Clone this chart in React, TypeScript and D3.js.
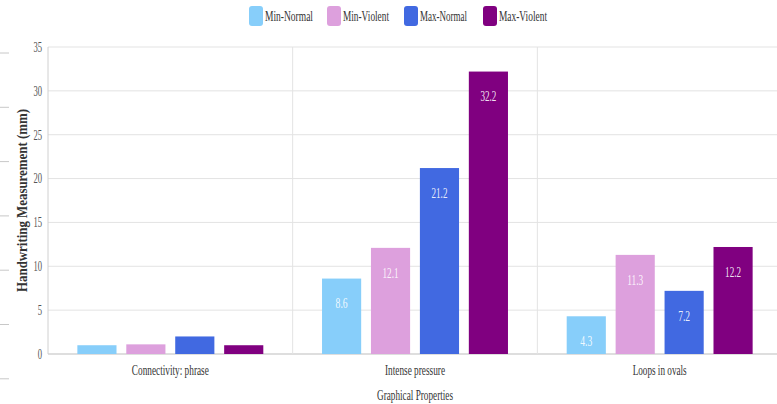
import React from "react";
import * as d3 from "d3";

const categories = ["Connectivity: phrase", "Intense pressure", "Loops in ovals"];
const seriesNames = ["Min-Normal", "Min-Violent", "Max-Normal", "Max-Violent"];
const seriesColors = ["#87CEFA", "#DDA0DD", "#4169E1", "#800080"];
const minNormal = [1.0, 8.6, 4.3];
const minViolent = [1.1, 12.1, 11.3];
const maxNormal = [2.0, 21.2, 7.2];
const maxViolent = [1.0, 32.2, 12.2];
const yTicks = [0, 5, 10, 15, 20, 25, 30, 35];

const W = 777;
const H = 404;
const FONT = "'Liberation Serif', 'Times New Roman', Times, 'DejaVu Serif', serif";
const ts: React.CSSProperties = { fontFamily: FONT };

export default function App() {
  const margin = { left: 48, right: -5, top: 47, bottom: 50 };
  const plotRight = W - margin.right;
  const plotBottom = H - margin.bottom;
  const series = [minNormal, minViolent, maxNormal, maxViolent];

  const x = d3.scaleBand<string>().domain(categories).range([margin.left, plotRight]).padding(0);
  const x1 = d3
    .scaleBand<number>()
    .domain(d3.range(seriesNames.length))
    .range([0, x.bandwidth()])
    .paddingInner(0.2)
    .paddingOuter(0.6);
  const y = d3.scaleLinear().domain([0, 35]).range([plotBottom, margin.top]);

  const catWidths = [77, 60, 54];
  const legendItems = [
    { x: 249, tw: 48 },
    { x: 327, tw: 46 },
    { x: 404, tw: 47 },
    { x: 483, tw: 48 },
  ];

  return (
    <svg
      width={W}
      height={H}
      style={{ position: "absolute", left: 0, top: 0, background: "#fff", fontFamily: FONT }}
    >
      {/* left edge artifacts */}
      {d3.range(7).map((i) => (
        <line key={"a" + i} x1={0} x2={9} y1={53 + i * 54.3} y2={53 + i * 54.3} stroke="#c8c8c8" strokeWidth={1} />
      ))}
      {/* horizontal gridlines */}
      {yTicks.map((t) => (
        <line
          key={"g" + t}
          x1={margin.left}
          x2={plotRight}
          y1={y(t)}
          y2={y(t)}
          stroke={t === 0 ? "#bdbdbd" : "#e3e3e3"}
          strokeWidth={1}
        />
      ))}
      {/* vertical gridlines at category boundaries */}
      {categories.map((c, i) => (
        <line
          key={"v" + i}
          x1={x(c) as number}
          x2={x(c) as number}
          y1={margin.top}
          y2={plotBottom}
          stroke={i === 0 ? "#d0d0d0" : "#e3e3e3"}
          strokeWidth={1}
        />
      ))}
      {/* y tick labels */}
      {yTicks.map((t) => (
        <text
          key={"t" + t}
          style={ts}
          x={42}
          y={y(t)}
          dy="0.35em"
          textAnchor="end"
          fontSize={14}
          fill="#555"
          textLength={String(t).length * 4.3}
          lengthAdjust="spacingAndGlyphs"
        >
          {t}
        </text>
      ))}
      {/* bars */}
      {categories.map((c, ci) =>
        series.map((s, si) => {
          const bx = (x(c) as number) + (x1(si) as number);
          const by = y(s[ci]);
          const bh = plotBottom - by;
          const label = s[ci].toFixed(1);
          return (
            <g key={c + si}>
              <rect x={bx} y={by} width={x1.bandwidth()} height={bh} fill={seriesColors[si]} />
              {s[ci] > 3 && (
                <text
                  style={ts}
                  x={bx + x1.bandwidth() / 2}
                  y={by + 25}
                  dy="0.35em"
                  textAnchor="middle"
                  fontSize={14}
                  fill="#fff"
                  fillOpacity={0.9}
                  textLength={label.length * 4}
                  lengthAdjust="spacingAndGlyphs"
                >
                  {label}
                </text>
              )}
            </g>
          );
        })
      )}
      {/* category labels */}
      {categories.map((c, i) => (
        <text
          key={"c" + c}
          style={ts}
          x={(x(c) as number) + x.bandwidth() / 2}
          y={370}
          dy="0.35em"
          textAnchor="middle"
          fontSize={14}
          fill="#333"
          textLength={catWidths[i]}
          lengthAdjust="spacingAndGlyphs"
        >
          {c}
        </text>
      ))}
      {/* x axis title */}
      <text
        style={ts}
        x={415}
        y={395}
        dy="0.35em"
        textAnchor="middle"
        fontSize={14}
        fill="#333"
        textLength={76}
        lengthAdjust="spacingAndGlyphs"
      >
        Graphical Properties
      </text>
      {/* y axis title */}
      <text
        style={ts}
        transform={`translate(22,${(margin.top + plotBottom) / 2}) rotate(-90)`}
        dy="0.35em"
        textAnchor="middle"
        fontSize={14}
        fontWeight="bold"
        fill="#333"
        textLength={183}
        lengthAdjust="spacingAndGlyphs"
      >
        Handwriting Measurement (mm)
      </text>
      {/* legend */}
      {seriesNames.map((n, i) => (
        <g key={"l" + n} transform={`translate(${legendItems[i].x},6)`}>
          <rect x={0} y={0} width={14} height={20} rx={3} fill={seriesColors[i]} />
          <text
            style={ts}
            x={16}
            y={10}
            dy="0.35em"
            fontSize={14}
            fill="#333"
            textLength={legendItems[i].tw}
            lengthAdjust="spacingAndGlyphs"
          >
            {n}
          </text>
        </g>
      ))}
    </svg>
  );
}
